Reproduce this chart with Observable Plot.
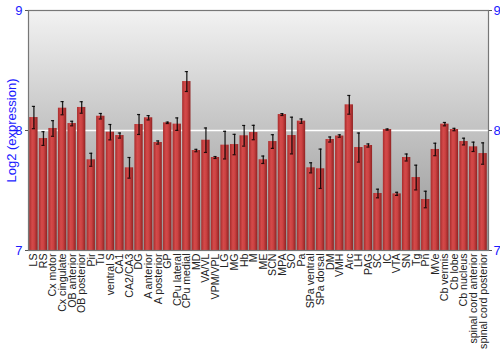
<!DOCTYPE html>
<html>
<head>
<meta charset="utf-8">
<script src="https://cdn.jsdelivr.net/npm/d3@7"></script>
<script src="https://cdn.jsdelivr.net/npm/@observablehq/plot@0.6"></script>
<style>
  html, body { margin: 0; padding: 0; background: #fff; }
  #chart { width: 500px; height: 350px; }
</style>
</head>
<body>
<div id="chart"></div>
<script>
const regions = ["LS","RS","Cx motor","Cx cingulate","OB anterior","OB posterior","Pir","Tu","ventral S","CA1","CA2/CA3","DG","A anterior","A posterior","GP","CPu lateral","CPu medial","MD","VA/VL","VPM/VPL","LG","MG","Hb","M","ME","SCN","MPA","SO","Pa","SPa ventral","SPa dorsal","DM","VMH","Arc","LH","PAG","SC","IC","VTA","SN","Tg","Pn","MVe","Cb vermis","Cb lobe","Cb nucleus","spinal cord anterior","spinal cord posterior"];
const means = [8.108,7.933,8.017,8.186,8.058,8.192,7.756,8.119,7.986,7.958,7.689,8.05,8.106,7.9,8.064,8.053,8.408,7.833,7.919,7.775,7.878,7.883,7.956,7.983,7.756,7.908,8.133,7.958,8.078,7.689,7.681,7.925,7.954,8.214,7.858,7.875,7.475,8.008,7.472,7.775,7.608,7.425,7.842,8.053,8.008,7.908,7.864,7.808];
const errors = [0.093,0.057,0.065,0.055,0.019,0.048,0.054,0.023,0.064,0.021,0.086,0.083,0.018,0.013,0.006,0.052,0.083,0.01,0.102,0.008,0.115,0.085,0.086,0.06,0.031,0.057,0.008,0.153,0.018,0.042,0.164,0.021,0.01,0.078,0.121,0.013,0.036,0.005,0.013,0.029,0.103,0.069,0.052,0.014,0.01,0.028,0.039,0.089];
const yTicks = [7, 8, 9];
const yLabel = "Log2 (expression)";

const data = regions.map((r, i) => ({region: r, mean: means[i], lo: means[i] - errors[i], hi: means[i] + errors[i]}));

const blue = "#1a1aff";
const plot = Plot.plot({
  width: 500,
  height: 350,
  marginLeft: 28,
  marginRight: 12,
  marginTop: 10,
  marginBottom: 100,
  style: {fontFamily: "Liberation Sans, Arial, sans-serif", background: "#fff"},
  x: {domain: regions, padding: 0.13, round: false, label: null},
  y: {domain: [7, 9], label: null},
  marks: [
    Plot.frame({fill: "url(#bgGrad)", stroke: null}),
    Plot.ruleY([8], {stroke: "#fff", strokeWidth: 1.5}),
    Plot.barY(data, {x: "region", y1: 7, y2: "mean", fill: "url(#barGrad)"}),
    Plot.ruleX(data, {x: "region", y1: "lo", y2: "hi", stroke: "#000", strokeWidth: 1.3, strokeOpacity: 0.85}),
    Plot.tickY(data, {x: "region", y: "lo", stroke: "#000", strokeWidth: 1.2, strokeOpacity: 0.85, insetLeft: 2.6, insetRight: 2.6}),
    Plot.tickY(data, {x: "region", y: "hi", stroke: "#000", strokeWidth: 1.2, strokeOpacity: 0.85, insetLeft: 2.6, insetRight: 2.6}),
    Plot.frame({stroke: "#777", strokeWidth: 1.2}),
    Plot.axisY({anchor: "left", ticks: yTicks, tickFormat: d => String(d), tickSize: 3, stroke: "#555", fill: blue, color: blue, fontSize: 13, tickPadding: 3, label: yLabel, labelAnchor: "center", labelOffset: 22, labelArrow: "none"}),
    Plot.axisY({anchor: "right", ticks: yTicks, tickFormat: d => String(d), tickSize: 3, stroke: "#555", fill: blue, color: blue, fontSize: 13, tickPadding: 2, label: null}),
    Plot.axisX({anchor: "bottom", tickRotate: -90, tickSize: 0, tickPadding: 3, fontSize: 10.6, fill: "#222", label: null})
  ]
});

const ns = "http://www.w3.org/2000/svg";
const svg = plot.tagName.toLowerCase() === "svg" ? plot : plot.querySelector("svg");
const defs = document.createElementNS(ns, "defs");
defs.innerHTML = `
  <linearGradient id="bgGrad" x1="0" y1="0" x2="0" y2="1">
    <stop offset="0" stop-color="#f2f2f2"/>
    <stop offset="1" stop-color="#939393"/>
  </linearGradient>
  <linearGradient id="barGrad" x1="0" y1="0" x2="1" y2="0">
    <stop offset="0" stop-color="#a82c2c"/>
    <stop offset="0.35" stop-color="#d44a4a"/>
    <stop offset="0.6" stop-color="#cc4242"/>
    <stop offset="1" stop-color="#902222"/>
  </linearGradient>`;
svg.insertBefore(defs, svg.firstChild);
document.getElementById("chart").appendChild(plot);
</script>
</body>
</html>
